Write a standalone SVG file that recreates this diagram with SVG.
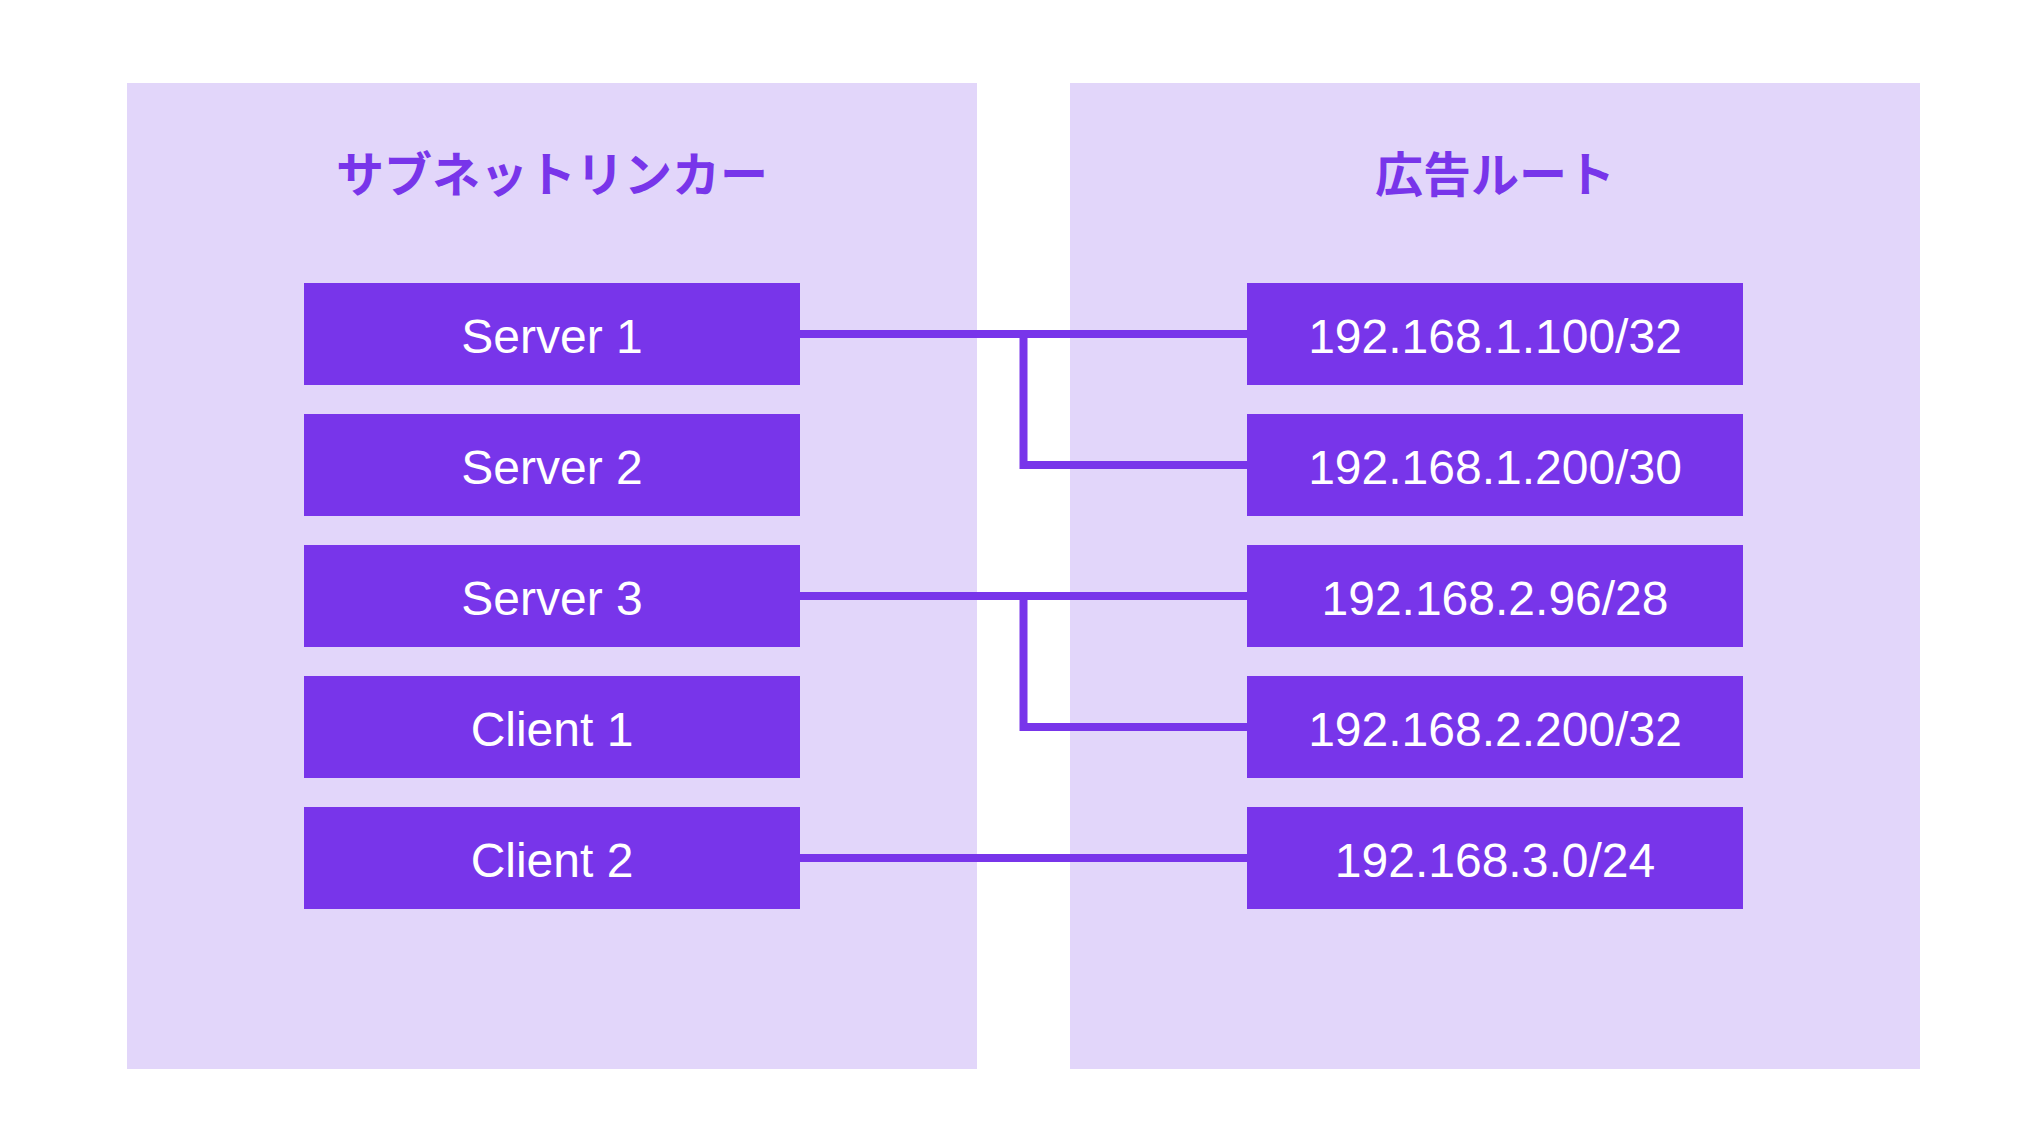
<svg xmlns="http://www.w3.org/2000/svg" width="2044" height="1140" viewBox="0 0 2044 1140">
<style>
.panel{fill:#e2d6fa}
.box{fill:#7835ea}
.title{font-family:"Noto Sans CJK JP","Noto Sans",sans-serif;font-weight:bold;font-size:48px;fill:#7835ea;text-anchor:middle}
.label{font-family:"Liberation Sans",Arial,sans-serif;font-size:48px;fill:#ffffff;text-anchor:middle}
.conn{fill:none;stroke:#7835ea;stroke-width:8}
</style>
<rect width="2044" height="1140" fill="#ffffff"/>
<g id="panel-left">
<rect class="panel" x="127" y="83" width="850" height="986"/>
<text class="title" x="552" y="192">サブネットリンカー</text>
</g>
<g id="panel-right">
<rect class="panel" x="1070" y="83" width="850" height="986"/>
<text class="title" x="1495" y="192">広告ルート</text>
</g>
<g id="connectors">
<path class="conn" d="M800 334 H1247"/>
<path class="conn" d="M1023.5 334 V465 H1247"/>
<path class="conn" d="M800 596 H1247"/>
<path class="conn" d="M1023.5 596 V727 H1247"/>
<path class="conn" d="M800 858 H1247"/>
</g>
<g id="server1"><rect class="box" x="304" y="283" width="496" height="102"/><text class="label" x="552" y="352.5">Server 1</text></g>
<g id="server2"><rect class="box" x="304" y="414" width="496" height="102"/><text class="label" x="552" y="483.5">Server 2</text></g>
<g id="server3"><rect class="box" x="304" y="545" width="496" height="102"/><text class="label" x="552" y="614.5">Server 3</text></g>
<g id="client1"><rect class="box" x="304" y="676" width="496" height="102"/><text class="label" x="552" y="745.5">Client 1</text></g>
<g id="client2"><rect class="box" x="304" y="807" width="496" height="102"/><text class="label" x="552" y="876.5">Client 2</text></g>
<g id="route1"><rect class="box" x="1247" y="283" width="496" height="102"/><text class="label" x="1495" y="352.5">192.168.1.100/32</text></g>
<g id="route2"><rect class="box" x="1247" y="414" width="496" height="102"/><text class="label" x="1495" y="483.5">192.168.1.200/30</text></g>
<g id="route3"><rect class="box" x="1247" y="545" width="496" height="102"/><text class="label" x="1495" y="614.5">192.168.2.96/28</text></g>
<g id="route4"><rect class="box" x="1247" y="676" width="496" height="102"/><text class="label" x="1495" y="745.5">192.168.2.200/32</text></g>
<g id="route5"><rect class="box" x="1247" y="807" width="496" height="102"/><text class="label" x="1495" y="876.5">192.168.3.0/24</text></g>
</svg>
